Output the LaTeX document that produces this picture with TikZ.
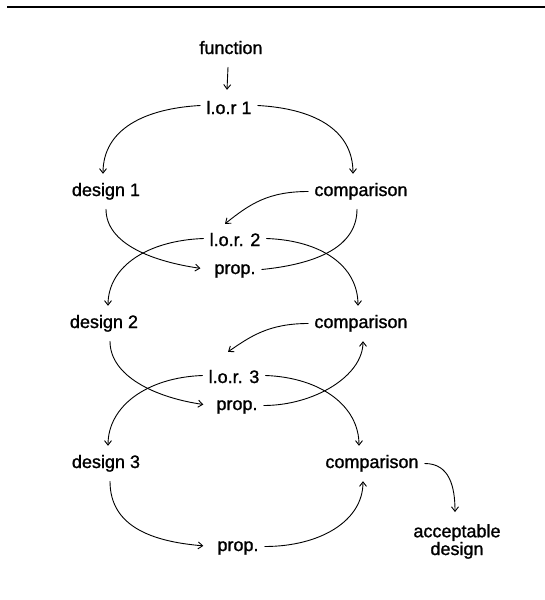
\documentclass[tikz,border=0pt]{standalone}
\usepackage{fontspec}
\setmainfont{Liberation Sans}
\newfontfamily\lblfont{Liberation Sans}[FakeBold=1.2]
\usetikzlibrary{arrows.meta,calc}
\begin{document}
\begin{tikzpicture}[x=1pt,y=-1pt,
  lbl/.style={font=\lblfont\fontsize{18}{16}\selectfont, anchor=base, inner xsep=6pt, inner ysep=9pt, text height=13pt, text depth=4pt},
  conn/.style={line width=0.9pt, line cap=round},
  arr/.style={conn, -{Straight Barb[length=4.5pt,width=7pt,line width=0.9pt]}}
]
\useasboundingbox[fill=white] (0,0) rectangle (545,600);
\draw[line width=1.8pt] (7,7) -- (545,7);

\node[lbl] (fn) at (231,54) {function};
\node[lbl] (l1) at (229,114) {l.o.r 1};
\node[lbl] (d1) at (106,196) {design 1};
\node[lbl] (c1) at (361,196) {comparison};
\node[lbl] (l2) at (235,246) {l.o.r. 2};
\node[lbl] (p1) at (235,274) {prop.};
\node[lbl] (d2) at (104,328) {design 2};
\node[lbl] (c2) at (361,328) {comparison};
\node[lbl] (l3) at (234,383) {l.o.r. 3};
\node[lbl] (p2) at (237,410) {prop.};
\node[lbl] (d3) at (106,468) {design 3};
\node[lbl] (c3) at (372,468) {comparison};
\node[lbl] (p3) at (238,551) {prop.};
\node[font=\lblfont\fontsize{18}{16}\selectfont, align=center, anchor=north, inner xsep=2pt, inner ysep=12pt] (acc) at (457,512) {acceptable\\design};

% function -> l.o.r 1
\draw[arr] ([xshift=-3pt]fn.south) -- ([xshift=-2pt,yshift=2pt]l1.north);

% loop 1
\draw[arr] ([yshift=4pt]l1.west) .. controls +(-55,3) and +(0,-45) .. ([xshift=-3pt]d1.north);
\draw[arr] ([yshift=4pt]l1.east) .. controls +(55,3) and +(0,-45) .. ([xshift=-8pt]c1.north);
\draw[arr] (c1.west) .. controls +(-40,0) and +(25,-20) .. ([xshift=-10pt]l2.north);
\draw[arr, shorten >=8pt] (d1.south) .. controls +(0,35) and +(-55,-8) .. (p1.west);
\draw[conn] ([xshift=-4pt]c1.south) .. controls +(0,40) and +(50,-5) .. (p1.east);

% loop 2
\draw[arr] ([yshift=3pt]l2.west) .. controls +(-55,2) and +(0,-40) .. ([xshift=4pt]d2.north);
\draw[arr] ([yshift=3pt]l2.east) .. controls +(55,2) and +(0,-40) .. ([xshift=-3pt]c2.north);
\draw[arr] (c2.west) .. controls +(-40,0) and +(22,-15) .. ([xshift=-6pt,yshift=9pt]l3.north);
\draw[arr, shorten >=7pt] ([xshift=6pt]d2.south) .. controls +(0,35) and +(-55,-8) .. (p2.west);
\draw[arr] (p2.east) .. controls +(50,0) and +(0,35) .. ([xshift=2pt]c2.south);

% loop 3
\draw[arr] ([yshift=3pt]l3.west) .. controls +(-55,2) and +(0,-40) .. ([xshift=2pt]d3.north);
\draw[arr] ([yshift=3pt]l3.east) .. controls +(55,2) and +(0,-40) .. ([xshift=-13pt]c3.north);
\draw[arr, shorten >=8pt] ([xshift=4pt]d3.south) .. controls +(0,45) and +(-60,-5) .. (p3.west);
\draw[arr] (p3.east) .. controls +(55,0) and +(0,40) .. ([xshift=-9pt]c3.south);
\draw[arr] (c3.east) .. controls +(25,0) and +(0,-25) .. ([xshift=-2pt]acc.north);
\end{tikzpicture}
\end{document}
